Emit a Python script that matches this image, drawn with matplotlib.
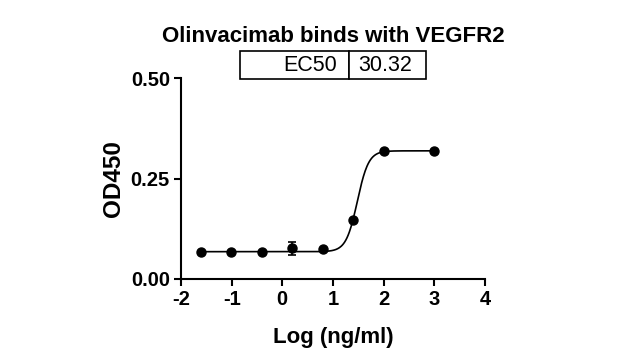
import numpy as np
import matplotlib
matplotlib.use("Agg")
import matplotlib.pyplot as plt

plt.rcParams['font.family'] = ['Liberation Sans', 'DejaVu Sans']
plt.rcParams['axes.unicode_minus'] = False

# measured points (log concentration, mean OD450, sd)
log_conc = [-1.61, -1.01, -0.41, 0.19, 0.80, 1.40, 2.00, 3.00]
od450 = [0.068, 0.066, 0.066, 0.076, 0.075, 0.148, 0.319, 0.319]
od_sd = [0.0, 0.0, 0.0, 0.016, 0.0, 0.0, 0.0, 0.0]

# 4PL fit parameters
bottom, top, ec50, hill = 0.068, 0.319, 30.32, 3.9

title = "Olinvacimab binds with VEGFR2"
x_ticks = [-2, -1, 0, 1, 2, 3, 4]
y_ticks = [0.00, 0.25, 0.50]

fig = plt.figure(figsize=(6.2, 3.6), dpi=100)
ax = fig.add_axes([0.292, 0.225, 0.490, 0.558])

xs = np.linspace(min(log_conc), max(log_conc), 400)
fit = bottom + (top - bottom) / (1 + 10 ** ((np.log10(ec50) - xs) * hill))
ax.plot(xs, fit, color='black', lw=1.2, zorder=2)
ax.errorbar(log_conc, od450, yerr=od_sd, fmt='o', color='black', ms=6.5,
            capsize=3, elinewidth=1.2, capthick=1.2, zorder=3)

ax.set_xlim(-2, 4)
ax.set_ylim(0, 0.5)
ax.set_xticks(x_ticks)
ax.set_yticks(y_ticks)
ax.set_yticklabels([f"{v:.2f}" for v in y_ticks])
ax.spines['top'].set_visible(False)
ax.spines['right'].set_visible(False)
for s in ['left', 'bottom']:
    ax.spines[s].set_linewidth(1.5)
ax.tick_params(width=1.5, length=5, labelsize=14.5, pad=3)
for lab in ax.get_xticklabels() + ax.get_yticklabels():
    lab.set_fontweight('bold')
ax.set_xlabel("Log (ng/ml)", fontsize=16, fontweight='bold', labelpad=13)
ax.set_ylabel("OD450", fontsize=17.5, fontweight='bold', labelpad=4)

fig.text(0.537, 0.898, title, ha='center', va='center', fontsize=16, fontweight='bold')

tbl = ax.table(cellText=[["EC50", "30.32"]], colWidths=[109, 77],
               bbox=[0.193, 0.995, 0.612, 0.14])
tbl.auto_set_font_size(False)
for (r, c), cell in tbl.get_celld().items():
    cell.set_linewidth(1.2)
    txt = cell.get_text()
    txt.set_fontsize(15.5)
    if c == 0:
        cell._loc = 'right'
        txt.set_ha('right')
        cell.PAD = 0.11
    else:
        cell._loc = 'left'
        txt.set_ha('left')
        cell.PAD = 0.13

fig.savefig("out.png", dpi=100)
